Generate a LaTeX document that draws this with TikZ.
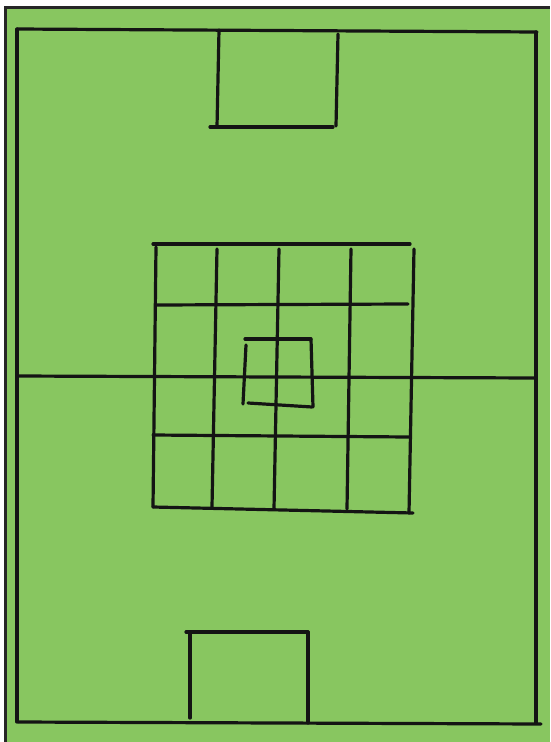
\documentclass[tikz,border=0pt]{standalone}
\definecolor{pitch}{RGB}{136,198,96}
\begin{document}
\begin{tikzpicture}[x=1pt,y=-1pt,
  chalk/.style={line width=3.2pt,line cap=round,black!92}]
\useasboundingbox (0,0) rectangle (550,742);
\fill[white] (0,0) rectangle (550,742);
\fill[pitch] (5,7) rectangle (550,742);
\draw[line width=3pt,black!85] (5,742) -- (5,7) -- (550,7);
% outer field
\draw[chalk] (17,29) -- (537,32);
\draw[chalk] (17,29) -- (17,722);
\draw[chalk] (536,32) -- (536,723);
\draw[chalk] (18,722) -- (541,724);
% half line
\draw[chalk] (17,376) -- (536,378);
% top goal box
\draw[chalk] (219,30) -- (217,127);
\draw[chalk] (338,34) -- (336,126);
\draw[chalk] (210,127) -- (333,127);
% bottom goal box
\draw[chalk] (186,632) -- (308,632);
\draw[chalk] (190,633) -- (190,718);
\draw[chalk] (308,632) -- (308,723);
% grid
\draw[chalk] (153,244) -- (410,244);
\draw[chalk] (156,247) -- (153,507);
\draw[chalk] (217,249) -- (212,507);
\draw[chalk] (279,249) -- (274,509);
\draw[chalk] (351,249) -- (347,509);
\draw[chalk] (414,249) -- (409,513);
\draw[chalk] (156,305) -- (408,304);
\draw[chalk] (153,435) -- (409,437);
\draw[chalk] (153,507) -- (413,513);
% centre square
\draw[chalk] (245,339) -- (311,339);
\draw[chalk] (246,345) -- (243,404);
\draw[chalk] (311,339) -- (313,407);
\draw[chalk] (248,403) -- (312,407);
\end{tikzpicture}
\end{document}
